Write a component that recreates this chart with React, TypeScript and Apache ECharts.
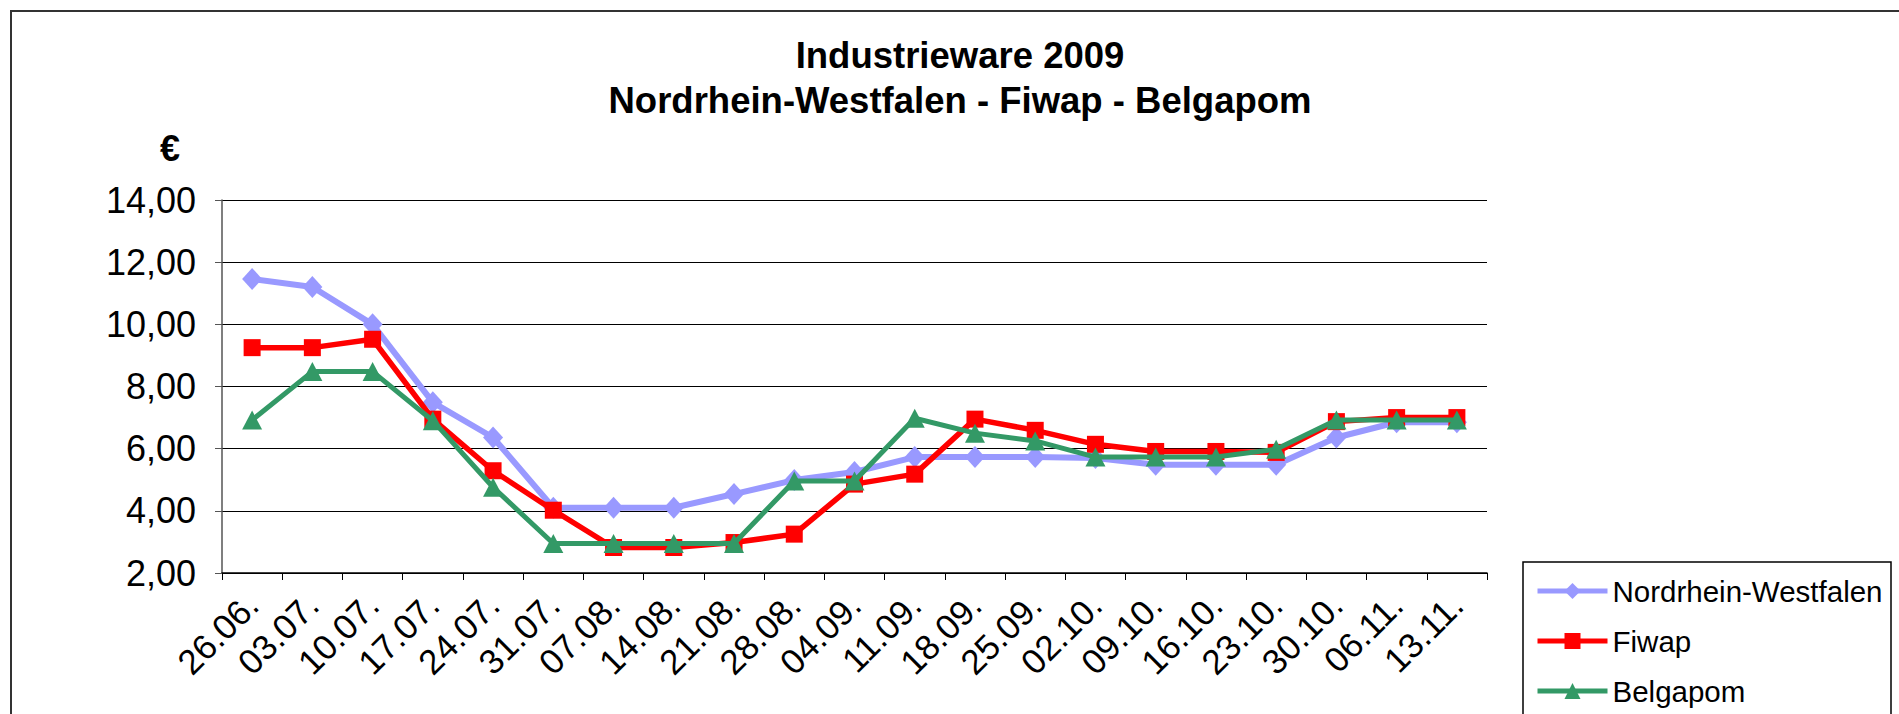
import React, { useEffect, useRef } from "react";
import * as echarts from "echarts";

const categories = [
  "26.06.", "03.07.", "10.07.", "17.07.", "24.07.", "31.07.", "07.08.", "14.08.", "21.08.", "28.08.",
  "04.09.", "11.09.", "18.09.", "25.09.", "02.10.", "09.10.", "16.10.", "23.10.", "30.10.", "06.11.", "13.11.",
];
const nrw = [11.46, 11.2, 10.0, 7.49, 6.36, 4.1, 4.1, 4.1, 4.54, 4.99, 5.25, 5.73, 5.73, 5.73, 5.7, 5.48, 5.48, 5.48, 6.36, 6.85, 6.85];
const fiwap = [9.25, 9.25, 9.52, 6.95, 5.29, 4.02, 2.82, 2.82, 2.98, 3.25, 4.86, 5.18, 6.95, 6.59, 6.14, 5.91, 5.91, 5.88, 6.87, 7.0, 7.0];
const belgapom = [6.92, 8.48, 8.48, 6.9, 4.76, 2.95, 2.95, 2.95, 2.95, 4.96, 4.96, 6.98, 6.5, 6.25, 5.73, 5.73, 5.73, 5.98, 6.92, 6.92, 6.92];
const seriesNames = ["Nordrhein-Westfalen", "Fiwap", "Belgapom"];
const yTicks = { min: 2, max: 14, interval: 2 };

const FONT = "'Liberation Sans', Arial, sans-serif";

export default function App() {
  const ref = useRef<HTMLDivElement>(null);
  useEffect(() => {
    if (!ref.current) return;
    const chart = echarts.init(ref.current, null, { renderer: "svg" });
    chart.setOption({
      animation: false,
      backgroundColor: "#fff",
      textStyle: { fontFamily: FONT },
      title: {
        text: "Industrieware 2009\nNordrhein-Westfalen - Fiwap - Belgapom",
        left: 955,
        textAlign: "center",
        top: 28,
        textStyle: { fontFamily: FONT, fontSize: 36.5, fontWeight: "bold", color: "#000", lineHeight: 45 },
      },
      graphic: [
        { type: "rect", shape: { x: 11, y: 11, width: 1950, height: 800 }, style: { fill: "none", stroke: "#333", lineWidth: 2 }, silent: true, z: -1 },
        { type: "rect", shape: { x: 1523, y: 562, width: 368, height: 250 }, style: { fill: "#fff", stroke: "#000", lineWidth: 1.5 }, silent: true, z: 0 },
        { type: "text", x: 170, y: 148, style: { text: "€", font: `bold 36px ${FONT}`, fill: "#000", textAlign: "center", textVerticalAlign: "middle" }, z: 5 },
      ],
      legend: {
        orient: "vertical",
        left: 1530,
        top: 571,
        height: 300,
        itemWidth: 70,
        itemHeight: 20,
        itemGap: 20,
        z: 10,
        lineStyle: { width: 5 },
        textStyle: { fontFamily: FONT, fontSize: 29.5, color: "#000" },
        data: seriesNames,
      },
      grid: { left: 222, right: 412, top: 200, bottom: 141, containLabel: false },
      xAxis: {
        type: "category",
        data: categories,
        boundaryGap: true,
        axisLine: { lineStyle: { color: "#000", width: 1.5 } },
        axisTick: { show: true, length: 7, lineStyle: { color: "#000" }, interval: 0 },
        axisLabel: {
          rotate: 45,
          interval: 0,
          margin: 26,
          fontSize: 35,
          color: "#000",
          fontFamily: FONT,
        },
      },
      yAxis: {
        type: "value",
        min: yTicks.min,
        max: yTicks.max,
        interval: yTicks.interval,
        axisLine: { show: true, lineStyle: { color: "#555", width: 1.5 } },
        axisTick: { show: true, length: 7, lineStyle: { color: "#555" } },
        splitLine: { lineStyle: { color: "#000", width: 1 } },
        axisLabel: {
          margin: 26,
          fontSize: 36,
          color: "#000",
          fontFamily: FONT,
          formatter: (v: number) => v.toFixed(2).replace(".", ","),
        },
      },
      series: [
        {
          name: seriesNames[0],
          type: "line",
          data: nrw,
          symbol: "diamond",
          symbolSize: [20, 22],
          lineStyle: { color: "#9999FF", width: 6 },
          itemStyle: { color: "#9999FF" },
          z: 2,
        },
        {
          name: seriesNames[1],
          type: "line",
          data: fiwap,
          symbol: "rect",
          symbolSize: 17,
          lineStyle: { color: "#FF0000", width: 5.5 },
          itemStyle: { color: "#FF0000" },
          z: 3,
        },
        {
          name: seriesNames[2],
          type: "line",
          data: belgapom,
          symbol: "triangle",
          symbolSize: [20, 19],
          lineStyle: { color: "#339966", width: 5 },
          itemStyle: { color: "#339966" },
          z: 4,
        },
      ],
    });
    return () => chart.dispose();
  }, []);
  return <div ref={ref} style={{ position: "fixed", left: 0, top: 0, width: 1899, height: 714 }} />;
}
